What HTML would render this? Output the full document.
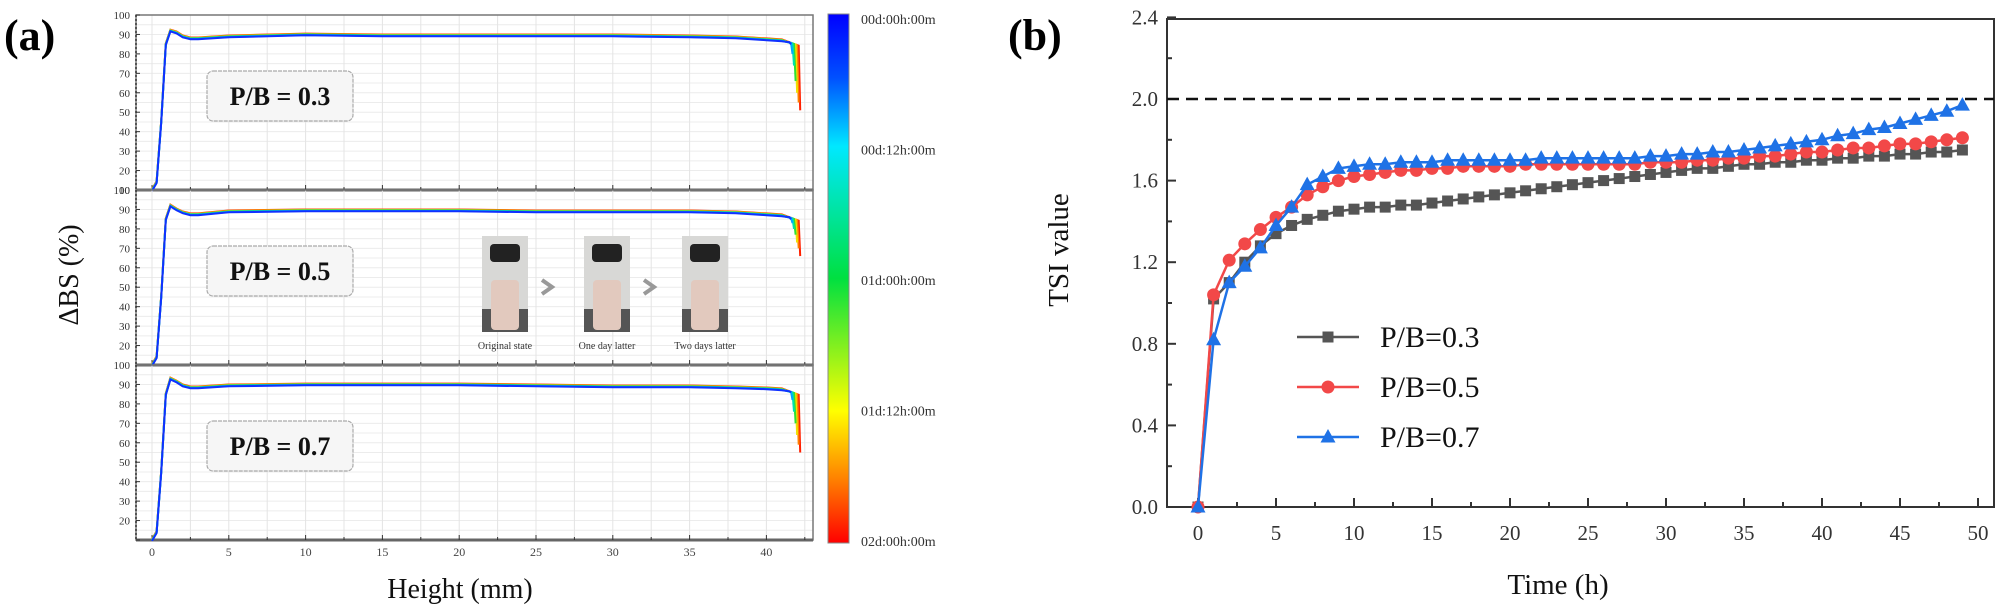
<!DOCTYPE html>
<html><head><meta charset="utf-8">
<style>
html,body{margin:0;padding:0;background:#fff;}
svg{display:block;}
text{font-family:"Liberation Serif",serif;}
</style></head>
<body>
<svg id="fig" width="2000" height="608" viewBox="0 0 2000 608" xmlns="http://www.w3.org/2000/svg">
  <text x="4" y="50" font-size="44" font-weight="bold">(a)</text>
  <text x="1008" y="50" font-size="44" font-weight="bold">(b)</text>
  <g id="panelA"></g>
  <g id="panelB"></g>
</svg>
<script>
// ---------- Panel (a) data ----------
const aHeights = [0, 0.3, 0.6, 0.9, 1.2, 1.6, 2.0, 2.5, 3, 5, 10, 15, 20, 25, 30, 35, 38, 40, 41];
const aProfile03 = [10, 14, 45, 85, 92, 91, 89, 88, 88, 89, 90, 89.5, 89.5, 89.5, 89.5, 89, 88.5, 87.5, 87];
const aProfile05 = [10, 14, 45, 85, 92, 90, 88.5, 87.5, 87.5, 89, 89.5, 89.5, 89.5, 89, 89, 89, 88.5, 87.5, 87];
const aProfile07 = [10, 14, 45, 85, 93, 91.5, 89.5, 88.5, 88.5, 89.5, 90, 90, 90, 89.5, 89, 89, 88.5, 88, 87.5];
const aTimeColors = ['#1030ff', '#00a8ff', '#00e0b0', '#30e030', '#f0e000', '#ff8000', '#ff2000'];
const aDropEnd03 = [85, 80, 74, 66, 60, 55, 51];
const aDropEnd05 = [85, 83, 80, 77, 73, 70, 66];
const aDropEnd07 = [86, 82, 76, 70, 64, 59, 55];
const aDropX = [41.5, 41.6, 41.7, 41.8, 41.9, 42.0, 42.1];
const aYTicks = [10, 20, 30, 40, 50, 60, 70, 80, 90, 100];
const aXTicks = [0, 5, 10, 15, 20, 25, 30, 35, 40];
const cbLabels = ['00d:00h:00m', '00d:12h:00m', '01d:00h:00m', '01d:12h:00m', '02d:00h:00m'];
const aPanelLabels = ['P/B = 0.3', 'P/B = 0.5', 'P/B = 0.7'];

// ---------- Panel (b) data ----------
const bTime = [];
for (let i = 0; i <= 49; i++) bTime.push(i);
const bSeries03 = [0,1.02,1.1,1.2,1.28,1.34,1.38,1.41,1.43,1.45,1.46,1.47,1.47,1.48,1.48,1.49,1.5,1.51,1.52,1.53,1.54,1.55,1.56,1.57,1.58,1.59,1.6,1.61,1.62,1.63,1.64,1.65,1.66,1.66,1.67,1.68,1.68,1.69,1.69,1.7,1.7,1.71,1.71,1.72,1.72,1.73,1.73,1.74,1.74,1.75];
const bSeries05 = [0,1.04,1.21,1.29,1.36,1.42,1.47,1.53,1.57,1.6,1.62,1.63,1.64,1.65,1.65,1.66,1.66,1.67,1.67,1.67,1.67,1.68,1.68,1.68,1.68,1.68,1.68,1.68,1.68,1.69,1.69,1.69,1.7,1.7,1.71,1.71,1.72,1.72,1.73,1.74,1.74,1.75,1.76,1.76,1.77,1.78,1.78,1.79,1.8,1.81];
const bSeries07 = [0,0.82,1.1,1.18,1.27,1.38,1.47,1.58,1.62,1.66,1.67,1.68,1.68,1.69,1.69,1.69,1.7,1.7,1.7,1.7,1.7,1.7,1.71,1.71,1.71,1.71,1.71,1.71,1.71,1.72,1.72,1.73,1.73,1.74,1.74,1.75,1.76,1.77,1.78,1.79,1.8,1.82,1.83,1.85,1.86,1.88,1.9,1.92,1.94,1.97];
const bXTicks = [0, 5, 10, 15, 20, 25, 30, 35, 40, 45, 50];
const bYTicks = [0.0, 0.4, 0.8, 1.2, 1.6, 2.0, 2.4];
const bThreshold = 2.0;
const bNames = ['P/B=0.3', 'P/B=0.5', 'P/B=0.7'];

const NS = 'http://www.w3.org/2000/svg';
function mk(tag, attrs, parent) {
  const e = document.createElementNS(NS, tag);
  for (const k in attrs) e.setAttribute(k, attrs[k]);
  parent.appendChild(e);
  return e;
}

// ================= Panel A =================
const A = document.getElementById('panelA');
const aL = 136, aR = 813, aX0 = 152, aXs = 15.36;
const aTops = [15, 190, 365], aH = 175;
const ax = v => aX0 + v * aXs;
const profiles = [aProfile03, aProfile05, aProfile07];
const drops = [aDropEnd03, aDropEnd05, aDropEnd07];

for (let p = 0; p < 3; p++) {
  const top = aTops[p];
  const ay = v => top + aH - (v - 10) / 90 * aH;
  const g = mk('g', {}, A);
  
  
  for (let v = 15; v < 100; v += 5) {
    const ln = mk('line', {x1: aL, x2: aR, y1: ay(v), y2: ay(v), stroke: '#ececec', 'stroke-width': 1}, g);
    
    
  }
  for (let t = 0; t <= 42.5; t += 2.5) {
    const ln = mk('line', {x1: ax(t), x2: ax(t), y1: top, y2: top + aH, stroke: '#e4e4e4', 'stroke-width': 1}, g);
    
    
  }
  const fr = mk('rect', {x: aL, y: top, width: aR - aL, height: aH, fill: 'none', stroke: '#777', 'stroke-width': 1.5}, g);
  
  
  mk('line', {x1: aL, x2: aR, y1: top + aH, y2: top + aH, stroke: '#666', 'stroke-width': 3}, g);
  mk('line', {x1: aL, x2: aL, y1: top, y2: top + aH, stroke: '#333', 'stroke-width': 1.5, 'stroke-dasharray': '2,2'}, g);
  aYTicks.forEach(v => {
    if (p > 0 && v === 100) return;
    mk('line', {x1: aL, x2: aL + 4, y1: ay(v), y2: ay(v), stroke: '#333', 'stroke-width': 1}, g);
    const t = mk('text', {x: aL - 6, y: ay(v) + 4, 'font-size': 11, 'text-anchor': 'end', fill: '#333'}, g);
    t.textContent = (p > 0 && v === 10) ? '' : v;
    
    
  });
  if (p > 0) {
    const t = mk('text', {x: aL - 6, y: top + 4, 'font-size': 11, 'text-anchor': 'end', fill: '#333'}, g);
    t.textContent = '100';
  }
  for (let t = 0; t <= 42.5; t += 2.5) {
    mk('line', {x1: ax(t), x2: ax(t), y1: top + aH, y2: top + aH - (t % 5 === 0 ? 5 : 3), stroke: '#333', 'stroke-width': 1}, g);
  }
  const prof = profiles[p];
  for (let c = aTimeColors.length - 1; c >= 0; c--) {
    let d = '';
    prof.forEach((v, i) => { d += (i ? 'L' : 'M') + ax(aHeights[i]).toFixed(1) + ',' + ay(v + (c - 3) * 0.15).toFixed(1); });
    d += 'L' + ax(aDropX[c]).toFixed(1) + ',' + ay(prof[prof.length - 1] - 1 - c * 0.3).toFixed(1);
    d += 'L' + ax(aDropX[c] + 0.1).toFixed(1) + ',' + ay(drops[p][c]).toFixed(1);
    const path = mk('path', {d: d, fill: 'none', stroke: aTimeColors[c], 'stroke-width': 2}, g);
    
    
  }
  const bx = mk('rect', {x: 207, y: top + 56, width: 146, height: 50, rx: 6, fill: '#f6f6f6', stroke: '#aaa', 'stroke-width': 1.2, 'stroke-dasharray': '4,1'}, g);
  
  
  const lt = mk('text', {x: 280, y: top + 90, 'font-size': 26, 'font-weight': 'bold', 'text-anchor': 'middle', fill: '#111'}, g);
  lt.textContent = aPanelLabels[p];
  
  
}
aXTicks.forEach(v => {
  const t = mk('text', {x: ax(v), y: 556, 'font-size': 12, 'text-anchor': 'middle', fill: '#444'}, A);
  t.textContent = v;
  
  
});
{
  const t = mk('text', {x: 460, y: 598, 'font-size': 28, 'text-anchor': 'middle', fill: '#111'}, A);
  t.textContent = 'Height (mm)';
  
  
  const y = mk('text', {x: 0, y: 0, 'font-size': 28, 'text-anchor': 'middle', fill: '#111', transform: 'translate(78,275) rotate(-90)'}, A);
  y.textContent = 'ΔBS (%)';
  
  
}
const vialX = [482, 584, 682];
const vialCaps = ['Original state', 'One day latter', 'Two days latter'];
vialX.forEach((x, i) => {
  const g = mk('g', {}, A);
  
  
  mk('rect', {x: x, y: 236, width: 46, height: 96, fill: '#d8d8d6'}, g);
  mk('rect', {x: x + 8, y: 244, width: 30, height: 18, rx: 4, fill: '#222'}, g);
  mk('rect', {x: x, y: 309, width: 46, height: 23, fill: '#555'}, g);
  mk('rect', {x: x + 9, y: 280, width: 28, height: 50, rx: 4, fill: '#e2c9be'}, g);
  const c = mk('text', {x: x + 23, y: 349, 'font-size': 10, 'text-anchor': 'middle', fill: '#333'}, g);
  c.textContent = vialCaps[i];
  if (i < 2) {
    const a = mk('path', {d: 'M' + (x + 60) + ',280 L' + (x + 70) + ',287 L' + (x + 60) + ',294', fill: 'none', stroke: '#999', 'stroke-width': 4}, A);
    
    
  }
});
{
  const defs = mk('defs', {}, A);
  const lg = mk('linearGradient', {id: 'cbg', x1: 0, y1: 0, x2: 0, y2: 1}, defs);
  [['0', '#0000ff'], ['0.12', '#0050ff'], ['0.25', '#00e8ff'], ['0.5', '#00e040'], ['0.75', '#ffff00'], ['0.88', '#ff8000'], ['1', '#ff0000']]
    .forEach(s => mk('stop', {offset: s[0], 'stop-color': s[1]}, lg));
  const r = mk('rect', {x: 828, y: 14, width: 21, height: 529, fill: 'url(#cbg)', stroke: '#888', 'stroke-width': 1}, A);
  
  
  cbLabels.forEach((s, i) => {
    const t = mk('text', {x: 861, y: 19 + i * 130.5 + 5, 'font-size': 14, fill: '#333'}, A);
    t.textContent = s;
    
    
  });
}

// ================= Panel B =================
const B = document.getElementById('panelB');
const bL = 1167, bR = 1994, bT = 19, bB = 507, bX0 = 1198, bXs = 15.6, bY0 = 507, bYs = 204;
const bx = v => bX0 + v * bXs;
const by = v => bY0 - v * bYs;
{
  const fr = mk('rect', {x: bL, y: bT, width: bR - bL, height: bB - bT, fill: 'none', stroke: '#333', 'stroke-width': 2}, B);
  
  
  for (let v = 0; v <= 50; v += 2.5) mk('line', {x1: bx(v), x2: bx(v), y1: bB, y2: bB - (v % 5 === 0 ? 9 : 5), stroke: '#333', 'stroke-width': 2}, B);
  for (let v = 0; v <= 2.4001; v += 0.2) mk('line', {x1: bL, x2: bL + (Math.round(v * 10) % 4 === 0 ? 9 : 5), y1: by(v), y2: by(v), stroke: '#333', 'stroke-width': 2}, B);
  bXTicks.forEach(v => {
    const t = mk('text', {x: bx(v), y: 540, 'font-size': 21, 'text-anchor': 'middle', fill: '#333'}, B);
    t.textContent = v;
    
    
  });
  bYTicks.forEach(v => {
    const t = mk('text', {x: 1158, y: by(v) + 7, 'font-size': 21, 'text-anchor': 'end', fill: '#333'}, B);
    t.textContent = v.toFixed(1);
    
    
  });
  const xt = mk('text', {x: 1558, y: 594, 'font-size': 29, 'text-anchor': 'middle', fill: '#111'}, B);
  xt.textContent = 'Time (h)';
  
  
  const yt = mk('text', {x: 0, y: 0, 'font-size': 29, 'text-anchor': 'middle', fill: '#111', transform: 'translate(1068,250) rotate(-90)'}, B);
  yt.textContent = 'TSI value';
  
  
  const th = mk('line', {x1: bL, x2: bR, y1: by(bThreshold), y2: by(bThreshold), stroke: '#111', 'stroke-width': 2.5, 'stroke-dasharray': '12,7'}, B);
  
  
}
function marker(g, kind, x, y, color) {
  if (kind === 0) return mk('rect', {x: x - 5.5, y: y - 5.5, width: 11, height: 11, fill: color}, g);
  if (kind === 1) return mk('circle', {cx: x, cy: y, r: 6.5, fill: color}, g);
  return mk('path', {d: 'M' + x + ',' + (y - 8) + ' L' + (x + 7.5) + ',' + (y + 5.5) + ' L' + (x - 7.5) + ',' + (y + 5.5) + 'Z', fill: color}, g);
}
const bAll = [bSeries03, bSeries05, bSeries07];
const bColors = ['#555555', '#f24848', '#1f72e6'];
const bKeys = ['series-pb-0-3', 'series-pb-0-5', 'series-pb-0-7'];
bAll.forEach((s, k) => {
  const g = mk('g', {}, B);
  
  
  const pts = s.map((v, i) => bx(bTime[i]).toFixed(1) + ',' + by(v).toFixed(1)).join(' ');
  const pl = mk('polyline', {points: pts, fill: 'none', stroke: bColors[k], 'stroke-width': 2.5}, g);
  
  
  s.forEach((v, i) => {
    const m = marker(g, k, bx(bTime[i]), by(v), bColors[k]);
    
    
  });
  const ly = 337 + k * 50;
  const lg = mk('g', {}, B);
  
  
  mk('line', {x1: 1297, x2: 1359, y1: ly, y2: ly, stroke: bColors[k], 'stroke-width': 2.5}, lg);
  marker(lg, k, 1328, ly, bColors[k]);
  const t = mk('text', {x: 1380, y: ly + 10, 'font-size': 30, fill: '#111'}, lg);
  t.textContent = bNames[k];
});
</script>
</body></html>
